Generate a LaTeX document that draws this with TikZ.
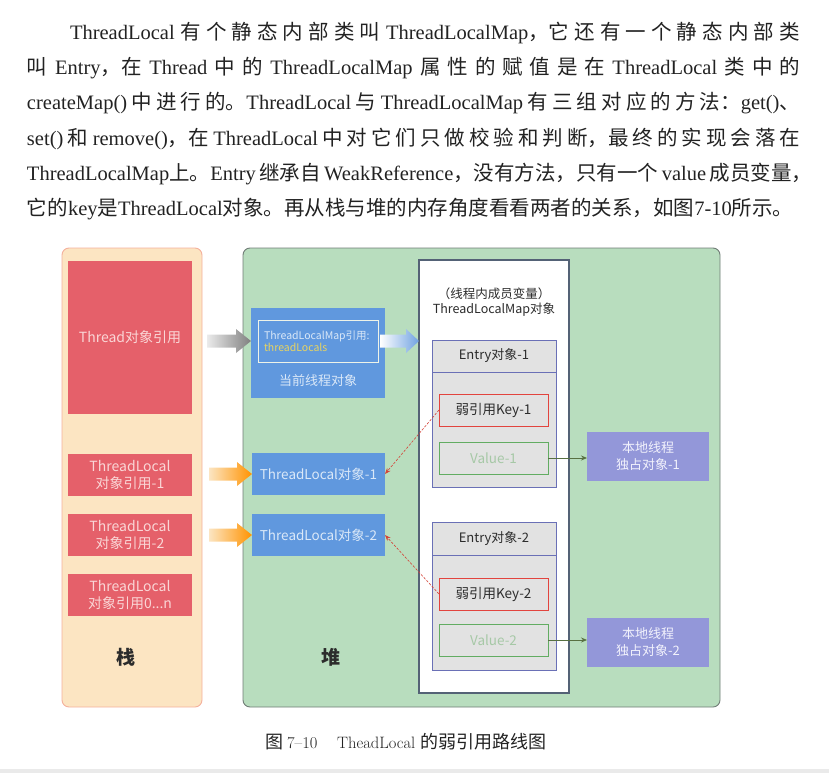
\documentclass[tikz,border=0pt]{standalone}
\usepackage{fontspec}
\setmainfont{Liberation Serif}
\newfontfamily\zhfont{Noto Sans CJK SC}
\newfontfamily\capfont{Latin Modern Roman}
\usetikzlibrary{calc,arrows.meta}
\newcommand{\zh}[1]{{\zhfont #1}}

\definecolor{inktext}{RGB}{34,34,34}
\definecolor{stackfill}{RGB}{252,229,194}
\definecolor{stackline}{RGB}{244,176,156}
\definecolor{refred}{RGB}{229,96,106}
\definecolor{reftext}{RGB}{250,214,214}
\definecolor{heapfill}{RGB}{184,221,190}
\definecolor{heapline}{RGB}{112,124,118}
\definecolor{objblue}{RGB}{96,152,222}
\definecolor{objtext}{RGB}{218,232,248}
\definecolor{innerline}{RGB}{238,243,232}
\definecolor{fieldyellow}{RGB}{232,212,96}
\definecolor{mapline}{RGB}{84,98,118}
\definecolor{entryfill}{RGB}{226,226,226}
\definecolor{entryline}{RGB}{106,112,182}
\definecolor{keyline}{RGB}{226,68,62}
\definecolor{valline}{RGB}{98,172,98}
\definecolor{valtext}{RGB}{166,200,166}
\definecolor{ownfill}{RGB}{147,151,217}
\definecolor{owntext}{RGB}{242,242,252}
\definecolor{linkgreen}{RGB}{88,112,66}
\definecolor{weakred}{RGB}{212,66,56}
\definecolor{darklabel}{RGB}{44,44,44}
\definecolor{bandgrey}{RGB}{234,234,234}

% shaded block arrow: #1 tail point, #2 tip point, #3/#4 colours from tail to tip, #5 head length
\newcommand{\blockarrow}[5]{%
  \shade[left color=#3, right color=#4]
    ($(#1)+(0,-6.5)$) -- ($(#2)+(-#5,-6.5)$) -- ($(#2)+(-#5,-12)$) -- (#2)
    -- ($(#2)+(-#5,12)$) -- ($(#2)+(-#5,6.5)$) -- ($(#1)+(0,6.5)$) -- cycle;}

\begin{document}
\begin{tikzpicture}[x=1pt,y=-1pt,
  every node/.style={inner sep=0pt, outer sep=0pt},
  sz/.style 2 args={minimum width=#1pt, minimum height=#2pt},
  para/.style={anchor=base west, text=inktext, font=\fontsize{20.5}{35}\selectfont},
  panel/.style={rounded corners=7pt, line width=0.9pt},
  stackp/.style={panel, fill=stackfill, draw=stackline},
  heapp/.style={panel, fill=heapfill, draw=heapline},
  refbox/.style={fill=refred, text=reftext, align=center,
    font=\zhfont\fontsize{14}{16.5}\selectfont},
  objbox/.style={fill=objblue, text=objtext, align=center,
    font=\zhfont\fontsize{13.5}{16}\selectfont},
  areaname/.style={text=darklabel, font=\zhfont\bfseries\fontsize{19}{22}\selectfont},
  mapbox/.style={fill=white, draw=mapline, line width=1.1pt},
  maptitle/.style={text=darklabel, align=center, font=\zhfont\fontsize{12.5}{14.5}\selectfont},
  entrybox/.style={fill=entryfill, draw=entryline, line width=0.8pt},
  entryhead/.style={entrybox, text=darklabel, font=\zhfont\fontsize{13}{15}\selectfont},
  keybox/.style={draw=keyline, line width=0.9pt, sz={109}{32}, text=darklabel,
    font=\zhfont\fontsize{13.5}{15}\selectfont},
  valbox/.style={draw=valline, line width=0.9pt, sz={109}{32}, text=valtext,
    font=\zhfont\fontsize{13.5}{15}\selectfont},
  ownbox/.style={fill=ownfill, sz={122}{49}, text=owntext, align=center,
    font=\zhfont\fontsize{13}{17}\selectfont},
  link/.style={draw=linkgreen, line width=0.8pt, -{Stealth[length=6pt,width=5pt]}},
  weak/.style={draw=weakred, line width=0.6pt, dash pattern=on 2.5pt off 1.5pt,
    -{Stealth[length=6pt,width=4.5pt]}}
]
\useasboundingbox (0,0) rectangle (829,773);

% ---------------- body text above the figure ----------------
\node[para] (l1) at (70,40) {\makebox[730pt][s]{ThreadLocal \zh{有 个 静 态 内 部 类 叫} ThreadLocalMap\zh{，它 还 有 一 个 静 态 内 部 类}}};
\node[para] (l2) at (27,75) {\makebox[773pt][s]{\zh{叫} Entry\zh{，在} Thread \zh{中 的} ThreadLocalMap \zh{属 性 的 赋 值 是 在} ThreadLocal \zh{类 中 的}}};
\node[para] (l3) at (27,110) {\makebox[773pt][s]{createMap() \zh{中 进 行 的。}ThreadLocal \zh{与} ThreadLocalMap \zh{有 三 组 对 应 的 方 法：}get()\zh{、}}};
\node[para] (l4) at (27,145) {\makebox[773pt][s]{set() \zh{和} remove()\zh{，在} ThreadLocal \zh{中 对 它 们 只 做 校 验 和 判 断，最 终 的 实 现 会 落 在}}};
\node[para] (l5) at (27,180) {\makebox[773pt][s]{ThreadLocalMap\zh{上。}Entry \zh{继承自} WeakReference\zh{，没有方法，只有一个} value \zh{成员变量，}}};
\node[para] (l6) at (27,215) {\makebox[773pt][s]{\zh{它的}key\zh{是}ThreadLocal\zh{对象。再从栈与堆的内存角度看看两者的关系，如图}7-10\zh{所示。}}};

% ---------------- stack and heap areas ----------------
\node[stackp, sz={140}{459}] (stack) at (132,477.5) {};
\node[heapp, sz={477}{459}] (heap) at (481.5,477.5) {};

% stack: references
\node[refbox, sz={124}{153}] (thr) at (130,337.5) {Thread对象引用};
\node[refbox, sz={124}{42}] (tlr1) at (130,475) {ThreadLocal\\对象引用-1};
\node[refbox, sz={124}{42}] (tlr2) at (130,535) {ThreadLocal\\对象引用-2};
\node[refbox, sz={124}{42}] (tlr0) at (130,595) {ThreadLocal\\对象引用0...n};
\node[areaname] (stackname) at (126,657) {栈};

% heap: current thread object
\node[objbox, sz={134}{90}] (cur) at (318,353) {};
\node[draw=innerline, line width=0.8pt, sz={120}{42}] (curin) at (318,341) {};
\node[anchor=west, align=left, text=objtext, font=\zhfont\fontsize{10.5}{12.5}\selectfont]
  (curtx) at ($(curin.west)+(6,0)$) {ThreadLocalMap引用:\\\textcolor{fieldyellow}{threadLocals}};
\node[text=objtext, font=\zhfont\fontsize{13}{15}\selectfont] (curname) at (318,381) {当前线程对象};

% heap: ThreadLocal objects
\node[objbox, sz={133}{42}] (tlo1) at (318.5,474) {ThreadLocal对象-1};
\node[objbox, sz={133}{42}] (tlo2) at (318.5,535) {ThreadLocal对象-2};
\node[areaname] (heapname) at (331,657) {堆};

% heap: ThreadLocalMap with its entries
\node[mapbox, sz={150}{433}] (map) at (494,476.5) {};
\node[maptitle] (maptitle) at (494,302) {（线程内成员变量）\\ThreadLocalMap对象};

\node[entrybox, sz={124}{147}] (ent1) at (494,413.5) {};
\node[entryhead, sz={124}{32}, anchor=north] (hd1) at (ent1.north) {Entry对象-1};
\node[keybox] (key1) at (493.5,410) {弱引用Key-1};
\node[valbox] (val1) at (493.5,458) {Value-1};
\node[ownbox] (own1) at (648,456.5) {本地线程\\独占对象-1};

\node[entrybox, sz={124}{148}] (ent2) at (494,596) {};
\node[entryhead, sz={124}{33}, anchor=north] (hd2) at (ent2.north) {Entry对象-2};
\node[keybox] (key2) at (493.5,594) {弱引用Key-2};
\node[valbox] (val2) at (493.5,640) {Value-2};
\node[ownbox] (own2) at (648,642.5) {本地线程\\独占对象-2};

% ---------------- connectors ----------------
\coordinate (g0) at ($(stack.east |- curin.west)+(5,0)$);
\coordinate (g1) at (cur.west |- curin.west);
\blockarrow{g0}{g1}{black!8}{black!50}{15}
\coordinate (o10) at ($(stack.east |- tlo1.west)+(7,0)$);
\blockarrow{o10}{tlo1.west}{stackfill}{orange!85!yellow}{15}
\coordinate (o20) at ($(stack.east |- tlo2.west)+(7,0)$);
\blockarrow{o20}{tlo2.west}{stackfill}{orange!85!yellow}{15}
\coordinate (b0) at ($(curin.east)+(2,0)$);
\coordinate (b1) at (map.west |- curin.east);
\blockarrow{b0}{b1}{white}{objblue!90}{13}

\draw[weak] (key1.west) -- (tlo1.east);
\draw[weak] (key2.west) -- (tlo2.east);
\draw[link] (val1.east) -- (val1.east -| own1.west);
\draw[link] (val2.east) -- (val2.east -| own2.west);

% ---------------- caption ----------------
\node[anchor=base west, text=inktext, font=\fontsize{16.5}{18}\selectfont] (cap) at (265,748)
  {{\zhfont\fontsize{18}{20}\selectfont 图} \capfont 7–10\hspace{1.2em}TheadLocal {\zhfont\fontsize{18}{20}\selectfont 的弱引用路线图}};

\fill[bandgrey] (0,769) rectangle (829,773);
\end{tikzpicture}
\end{document}
